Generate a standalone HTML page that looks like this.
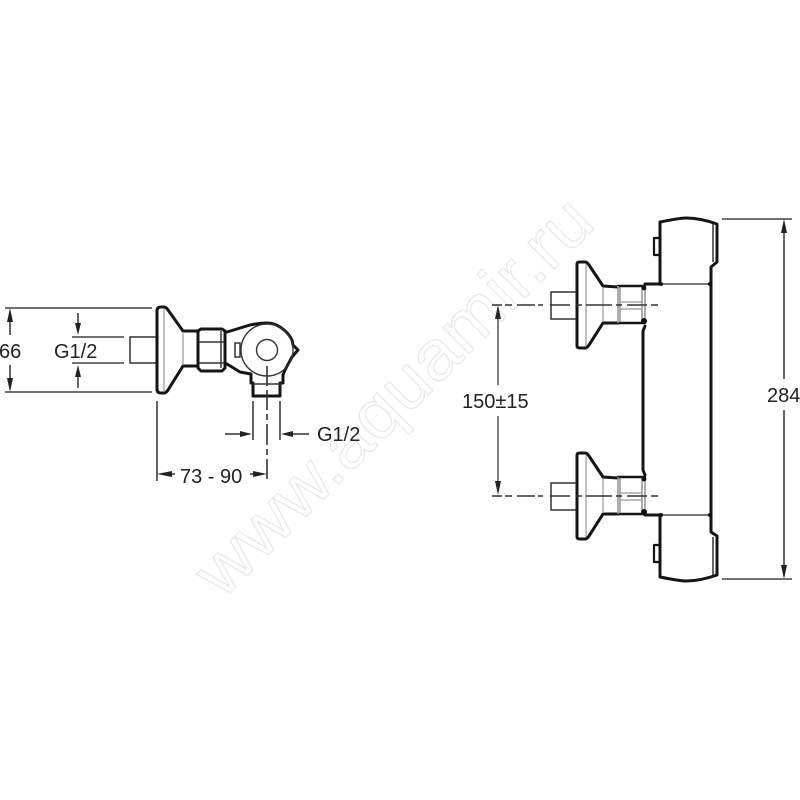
<!DOCTYPE html>
<html><head><meta charset="utf-8"><style>
html,body{margin:0;padding:0;background:#fff;width:800px;height:800px;overflow:hidden}
svg{display:block}
text{font-family:"Liberation Sans",sans-serif}
.t{font-size:20px;fill:#222}
.b{fill:none;stroke:#151515;stroke-width:3;stroke-linejoin:round;stroke-linecap:round}
.m{fill:none;stroke:#333;stroke-width:1.5}
.l{fill:none;stroke:#999;stroke-width:1.2}
.d{fill:none;stroke:#444;stroke-width:1.4}
.h{fill:none;stroke:#333;stroke-width:1.6}
.a{fill:#222;stroke:none}
#art{filter:blur(.35px)}
</style></head><body>
<svg width="800" height="800" viewBox="0 0 800 800" xmlns="http://www.w3.org/2000/svg">
<defs>
<g id="knob">
<path class="b" d="M577 264Q577 262 580 262L585 262Q587 262 589 265L603 286L618 287M577 264V346Q577 348 580 348L585 348Q587 348 589 345L603 323L618 323"/>
<path class="l" d="M586 264V346M603 288V322"/>
<path class="m" d="M576 292H551V319H576"/>
<path class="b" d="M618 286H645M618 323H645" style="stroke-width:2.4"/>
<path class="l" d="M618 286V323M620 287V322M642 287V322M645 287V322" style="stroke-width:1.6"/>
<path class="l" d="M621 302H642M621 309H642"/>
<circle cx="644" cy="288" r="2.4" fill="#111"/>
<circle cx="644" cy="321" r="3" fill="#111"/>
</g>
<path id="dash" class="h" d="M492 305H502M505 305H512M517 305H535M538 305H543M550 305H570M576 305H582M586 305H612M616 305H622M627 305H647M651 305H658"/>
</defs>

<text transform="translate(410 413) rotate(-45)" x="0" y="0" text-anchor="middle" font-size="70" textLength="530" lengthAdjust="spacingAndGlyphs" style="fill:#fff;stroke:#e8e8e8;stroke-width:1.2">www.aquamir.ru</text>

<g id="art">
<!-- LEFT VIEW -->
<path class="d" d="M5 308H152M5 392H152M72 337H124M72 363H124"/>
<path class="m" d="M10 315V335M10 365V386M78 313V328M78 372V388"/>
<path class="a" d="M10 308L7 322H13ZM10 392L7 378H13ZM78 335L75 323H81ZM78 365L75 377H81Z"/>
<path class="m" d="M157 363H130V337H157"/>
<path class="b" d="M157 311Q157 307 161 307H164Q166 307 168 310L183 331H198M157 311V389Q157 393 161 393H164Q166 393 168 390L183 366H198"/>
<path class="l" d="M164 309V391M183 332V365"/>
<path class="b" d="M198 331L201 329H222L225 331V368L222 371H201L198 368Z"/>
<path class="m" d="M199 342H224M199 363H224M221 331V368"/>
<path class="b" d="M227 332L250 325Q260 323 267 323Q274 323 280 327Q288 332 292 340L293 345L298 350L292 357L285 370L283 375V383H280V396H253V383H251V374L240 372L227 364"/>
<circle cx="267" cy="350" r="26" fill="none" stroke="#333" stroke-width="1.4"/>
<circle cx="267" cy="350" r="10.5" fill="none" stroke="#333" stroke-width="1.4"/>
<path class="m" d="M235 343H240V357H235ZM253 384H281"/>
<path class="h" d="M267 366V386M267 390V410M267 414V420M267 424V445M267 449V455M267 459V479"/>
<path class="m" d="M253 401V440M280 401V440M157 401V481"/>
<path class="m" d="M225 434H245M288 434H309M170 474H175M250 474H262"/>
<path class="a" d="M252 434L240 431V437ZM281 434L293 431V437ZM157 474L172 471V477ZM267 474L253 471V477Z"/>
<text class="t" x="-1" y="358">66</text>
<text class="t" x="54" y="358">G1/2</text>
<text class="t" x="317" y="441">G1/2</text>
<text class="t" x="180" y="483">73 - 90</text>

<!-- RIGHT VIEW -->
<use href="#knob"/>
<use href="#knob" transform="translate(0 191)"/>
<use href="#dash"/>
<use href="#dash" transform="translate(0 191)"/>
<path class="d" d="M498 310V385M498 416V490"/>
<path class="a" d="M498 305L495 319H501ZM498 495L495 481H501Z"/>
<text class="t" x="462" y="408">150±15</text>

<path class="b" d="M660 284V222Q680 218 686 218Q700 218 717 224V262L711 267V532L717 536V575Q700 581 686 581Q680 581 660 577V515M660 284H645M645 326L643 331V470L645 475M660 515H645"/>
<path class="l" d="M660 284H711M660 515H711" style="stroke-width:1.8;stroke:#666"/>
<path class="m" d="M713 224V262M713 537V575"/>
<path class="b" d="M659 238H654V255H660M659 545H654V562H660" style="stroke-width:2.2"/>
<circle cx="661" cy="284" r="2" fill="#111"/><circle cx="710" cy="284" r="2" fill="#111"/>
<circle cx="661" cy="515" r="2" fill="#111"/><circle cx="710" cy="515" r="2" fill="#111"/>

<path class="d" d="M722 219H792M722 579H792"/>
<path class="m" d="M784 225V379M784 410V574"/>
<path class="a" d="M784 219L781 233H787ZM784 579L781 565H787Z"/>
<text class="t" x="767" y="402">284</text>
</g>
</svg>
</body></html>
